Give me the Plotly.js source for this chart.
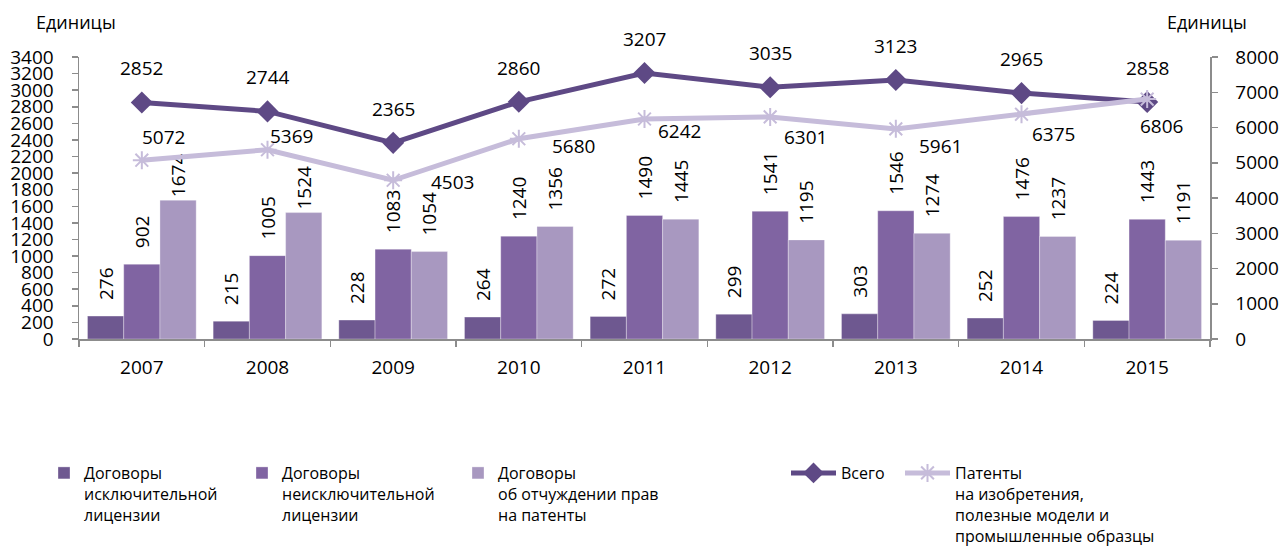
<!DOCTYPE html>
<html>
<head>
<meta charset="utf-8">
<script src="https://cdn.plot.ly/plotly-3.0.1.min.js"></script>
<style>html,body{margin:0;padding:0;background:#fff;}#chart{width:1281px;height:557px;}</style>
</head>
<body>
<div id="chart"></div>
<script>
// ---- data ----
const years = ['2007','2008','2009','2010','2011','2012','2013','2014','2015'];
const exclusive = [276, 215, 228, 264, 272, 299, 303, 252, 224];
const nonExclusive = [902, 1005, 1083, 1240, 1490, 1541, 1546, 1476, 1443];
const alienation = [1674, 1524, 1054, 1356, 1445, 1195, 1274, 1237, 1191];
const total = [2852, 2744, 2365, 2860, 3207, 3035, 3123, 2965, 2858];
const patents = [5072, 5369, 4503, 5680, 6242, 6301, 5961, 6375, 6806];

const names = {
  exclusive: 'Договоры<br>исключительной<br>лицензии',
  nonExclusive: 'Договоры<br>неисключительной<br>лицензии',
  alienation: 'Договоры<br>об отчуждении прав<br>на патенты',
  total: 'Всего',
  patents: 'Патенты<br>на изобретения,<br>полезные модели и<br>промышленные образцы'
};

// ---- label offsets (pixels / spacing, style only) ----
const totalShiftY = 34;
const patentShiftX = [22, 24, 59, 55, 35, 35, 45, 32, 14];
const patentShiftY = [23, 14, -2, -7, -12, -20, -17, -20, -27];
const GAP = '\u00A0\u00A0\u2009';           // lifts rotated bar labels off the bar top
const alienationGap = [false, false, true, true, true, true, true, true, true];

const FONT = 'Open Sans, Noto Sans, sans-serif';
const numFont = {family: FONT, size: 19, color: '#000'};
const axisGrey = '#8C8C8C';

function barTrace(vals, name, color, legendId, gaps) {
  return {
    type: 'bar', x: years, y: vals, name: name,
    marker: {color: color, line: {color: 'rgba(255,255,255,0.55)', width: 0.6}},
    texttemplate: vals.map((v, i) => ((gaps ? gaps[i] : true) ? GAP : '') + '%{y}'),
    textposition: 'outside', textangle: -90,
    textfont: numFont, constraintext: 'none', cliponaxis: false,
    legend: legendId, hoverinfo: 'x+y'
  };
}

const traces = [
  barTrace(exclusive, names.exclusive, '#6E5890', 'legend'),
  barTrace(nonExclusive, names.nonExclusive, '#8064A2', 'legend2'),
  barTrace(alienation, names.alienation, '#A898C0', 'legend3', alienationGap),
  {
    type: 'scatter', mode: 'lines+markers', x: years, y: total, name: names.total,
    line: {color: '#5E4985', width: 5},
    marker: {symbol: 'diamond', size: 17, color: '#5E4985'},
    legend: 'legend4', cliponaxis: false
  },
  {
    type: 'scatter', mode: 'lines+markers', x: years, y: patents, name: names.patents,
    yaxis: 'y2',
    line: {color: '#C6BCDA', width: 5},
    marker: {symbol: 'asterisk-open', size: 15, line: {color: '#BDB1D4', width: 2}},
    legend: 'legend5', cliponaxis: false
  }
];

// annotations on a category axis use the category index as position
const annotations = [];
years.forEach((yr, i) => {
  annotations.push({
    x: i, y: total[i], xref: 'x', yref: 'y', text: String(total[i]),
    showarrow: false, xanchor: 'center', yanchor: 'middle',
    yshift: totalShiftY, font: numFont
  });
  annotations.push({
    x: i, y: patents[i], xref: 'x', yref: 'y2', text: String(patents[i]),
    showarrow: false, xanchor: 'center', yanchor: 'middle',
    xshift: patentShiftX[i], yshift: patentShiftY[i], font: numFont
  });
});
annotations.push({
  text: 'Единицы', xref: 'paper', yref: 'paper', x: (76 - 79) / 1131, y: (339 - 22) / 282,
  xanchor: 'center', yanchor: 'middle', showarrow: false, font: {family: FONT, size: 18, color: '#000'}
});
annotations.push({
  text: 'Единицы', xref: 'paper', yref: 'paper', x: (1207 - 79) / 1131, y: (339 - 22) / 282,
  xanchor: 'center', yanchor: 'middle', showarrow: false, font: {family: FONT, size: 18, color: '#000'}
});

function legendAt(textPx, itemwidth) {
  return {
    x: (textPx - itemwidth - 12 - 79) / 1131, xanchor: 'left',
    y: (339 - 456) / 282, yanchor: 'top',
    orientation: 'v', valign: 'top', itemwidth: itemwidth,
    font: {family: FONT, size: 16, color: '#000'},
    bgcolor: 'rgba(0,0,0,0)', borderwidth: 0, tracegroupgap: 0
  };
}

const layout = {
  width: 1281, height: 557,
  margin: {l: 79, r: 71, t: 57, b: 218, pad: 0, autoexpand: false},
  paper_bgcolor: '#fff', plot_bgcolor: '#fff',
  font: {family: FONT, size: 19, color: '#000'},
  barmode: 'group', bargap: 0.135, bargroupgap: 0,
  xaxis: {
    type: 'category', range: [-0.5, years.length - 0.5], autorange: false,
    showgrid: false, zeroline: false,
    showline: true, linecolor: axisGrey, linewidth: 1.5,
    ticks: 'outside', tickson: 'boundaries', ticklen: 6, tickcolor: axisGrey, tickwidth: 1.5,
    tickangle: 0,
    tickfont: {family: FONT, size: 19, color: '#000'}, ticklabelstandoff: 11
  },
  yaxis: {
    range: [0, 3400], autorange: false, dtick: 200, tick0: 0, showgrid: false, zeroline: false,
    showline: true, linecolor: axisGrey, linewidth: 1.5,
    ticks: 'outside', ticklen: 6, tickcolor: axisGrey, tickwidth: 1.5,
    tickfont: {family: FONT, size: 19, color: '#000'}, ticklabelstandoff: 14
  },
  yaxis2: {
    range: [0, 8000], autorange: false, dtick: 1000, tick0: 0, overlaying: 'y', side: 'right',
    showgrid: false, zeroline: false,
    showline: true, linecolor: axisGrey, linewidth: 1.5,
    ticks: 'outside', ticklen: 6, tickcolor: axisGrey, tickwidth: 1.5,
    tickfont: {family: FONT, size: 19, color: '#000'}, ticklabelstandoff: 14
  },
  showlegend: true,
  legend: legendAt(86, 30),
  legend2: legendAt(284, 30),
  legend3: legendAt(500, 30),
  legend4: legendAt(843, 45),
  legend5: legendAt(957, 45),
  annotations: annotations
};

Plotly.newPlot('chart', traces, layout, {displayModeBar: false, staticPlot: true});
</script>
</body>
</html>
